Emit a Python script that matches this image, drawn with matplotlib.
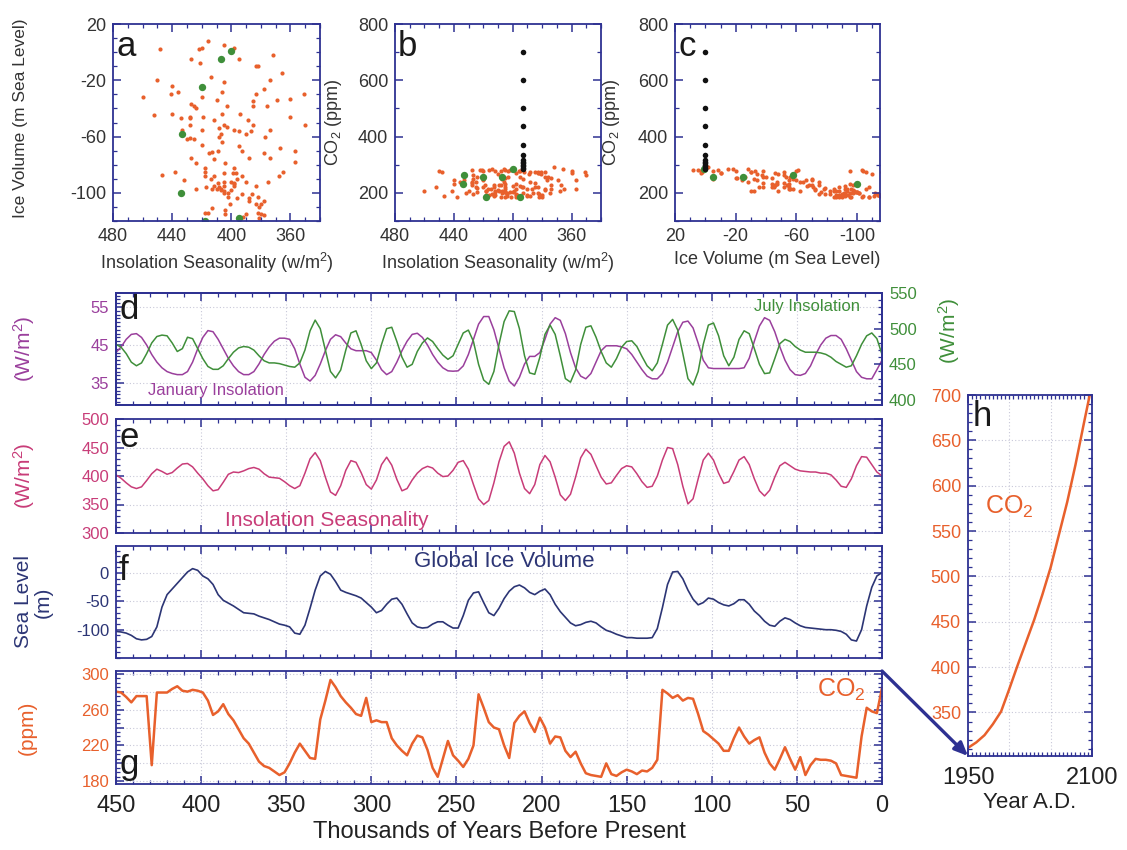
import matplotlib

matplotlib.use("Agg")
import matplotlib.pyplot as plt
import numpy as np
from matplotlib.ticker import MultipleLocator, FixedLocator

plt.rcParams["font.family"] = ["Liberation Sans", "DejaVu Sans"]
plt.rcParams["mathtext.fontset"] = "custom"
plt.rcParams["mathtext.rm"] = "Liberation Sans"
plt.rcParams["mathtext.it"] = "Liberation Sans"
plt.rcParams["axes.unicode_minus"] = False

NAVY = "#2e3192"
ORANGE = "#e8602c"
GREEN = "#3f8f3a"
PURPLE = "#9a3f9c"
PINK = "#c83c78"
ICE = "#2c3575"
GRID = "#c8c8d8"

# ---- time axis (thousands of years before present), 3 kyr steps ----
kyr_bp = np.arange(450, -1, -3)

# panel d: January insolation (W/m2, left axis)
jan_insol = [
    43.0, 44.5, 46.5, 47.8, 48.0, 47.0, 45.0, 42.5, 40.5, 39.0,
    38.0, 37.5, 37.2, 37.2, 38.0, 40.5, 44.0, 47.0, 48.8, 48.5,
    46.5, 44.0, 41.5, 39.5, 38.0, 37.2, 37.2, 38.0, 40.0, 42.5,
    44.5, 46.0, 46.8, 46.8, 46.5, 44.0, 40.0, 36.5, 35.5, 37.0,
    40.0, 43.5, 46.5, 47.7, 47.2, 45.5, 44.0, 43.5, 43.5, 43.5,
    43.0, 41.0, 38.5, 37.2, 38.0, 40.5, 43.5, 46.0, 47.8, 48.1,
    47.0, 45.0, 42.5, 40.5, 39.0, 38.2, 38.1, 38.2, 39.5, 42.5,
    46.5, 50.5, 52.5, 52.5, 49.0, 44.0, 39.0, 35.5, 34.2, 36.5,
    40.0, 42.0, 42.0, 43.0, 46.5, 50.5, 52.2, 51.5, 48.0, 43.0,
    39.0, 36.8, 36.1, 37.5, 40.5, 43.5, 44.8, 44.8, 44.8, 44.5,
    44.0, 42.5, 40.5, 38.5, 36.8, 36.1, 36.1, 37.5, 40.5, 44.5,
    48.5, 51.0, 51.3, 49.5, 45.5, 41.0, 39.0, 38.8, 38.8, 38.8,
    38.8, 38.8, 38.8, 39.0, 41.5, 46.0, 50.0, 52.2, 51.5, 48.5,
    44.5, 41.0, 38.5, 37.2, 37.0, 37.5, 39.5, 42.5, 45.0, 46.8,
    47.5, 47.5, 46.5, 44.0, 41.0, 38.0, 36.5, 36.1, 36.1, 38.5,
    41.0,
]

# panel d: July insolation (W/m2, right axis)
jul_insol = [
    478, 474, 465, 453, 448, 452, 465, 480, 489, 491,
    490, 480, 468, 472, 488, 486, 472, 458, 447, 443,
    443, 448, 458, 467, 473, 475, 474, 470, 462, 455,
    452, 452, 451, 449, 447, 446, 452, 470, 497, 512,
    500, 470, 440, 431, 442, 470, 494, 497, 478, 455,
    444, 452, 478, 500, 502, 482, 460, 446, 450, 468,
    480, 487, 482, 472, 463, 457, 462, 478, 494, 498,
    482, 450, 428, 422, 440, 478, 510, 525, 524, 500,
    462, 438, 436, 460, 492, 505, 492, 462, 430, 425,
    442, 478, 502, 504, 488, 468, 452, 446, 458, 474,
    482, 483, 475, 461, 448, 441, 452, 478, 505, 513,
    498, 465, 430, 421, 440, 478, 505, 508, 490, 462,
    448, 460, 485, 497, 493, 472, 450, 437, 438, 458,
    479, 485, 482, 475, 470, 467, 467, 467, 466, 464,
    460, 454, 450, 446, 448, 462, 478, 490, 494, 486,
    464,
]

# panel e: insolation seasonality (W/m2)
seasonality = [
    402, 396, 388, 381, 378, 381, 392, 404, 412, 408,
    403, 406, 414, 421, 422, 416, 405, 395, 383, 374,
    376, 389, 403, 407, 406, 409, 413, 415, 412, 404,
    398, 397, 396, 390, 383, 378, 383, 405, 430, 441,
    427, 398, 372, 366, 383, 410, 427, 424, 406, 385,
    377, 393, 420, 433, 419, 394, 374, 378, 393, 405,
    413, 417, 414, 405, 399, 400, 410, 424, 427, 412,
    385, 360, 350, 357, 388, 425, 452, 460, 440, 405,
    378, 369, 385, 420, 436, 425, 398, 367, 357, 368,
    398, 432, 447, 438, 418, 398, 386, 388, 401, 413,
    418, 416, 404, 390, 380, 382, 400, 428, 450, 448,
    420, 382, 351, 360, 395, 428, 440, 428, 405, 387,
    390, 408, 428, 434, 420, 395, 374, 365, 375, 398,
    418, 424, 418, 412, 409, 408, 407, 407, 405, 405,
    402, 393, 382, 380, 395, 418, 434, 433, 420, 407,
    400,
]

# panel f: global ice volume as sea level (m)
sea_level = [
    -103, -104, -106, -110, -116, -118, -117, -112, -95, -60,
    -38, -28, -18, -8, 2, 8, 5, -5, -10, -20,
    -38, -48, -53, -58, -64, -70, -71, -72, -76, -79,
    -82, -86, -90, -92, -95, -106, -108, -92, -62, -30,
    -5, 3, -2, -15, -30, -34, -37, -40, -44, -52,
    -60, -70, -66, -55, -46, -44, -55, -72, -88, -95,
    -97, -96, -90, -86, -86, -92, -97, -97, -75, -48,
    -35, -33, -52, -70, -75, -62, -45, -32, -24, -21,
    -26, -34, -38, -32, -28, -38, -55, -68, -78, -88,
    -93, -91, -87, -85, -88, -95, -101, -104, -108, -111,
    -114, -114, -115, -115, -115, -114, -98, -61, -20, 2,
    3, -10, -30, -46, -56, -52, -44, -46, -52, -56,
    -58, -54, -47, -47, -55, -67, -75, -85, -92, -94,
    -85, -79, -82, -88, -93, -96, -97, -98, -99, -100,
    -100, -101, -103, -108, -118, -120, -100, -58, -25, -5,
    1,
]

# panel g: atmospheric CO2 (ppm)
co2 = [
    280, 279, 274, 268, 275, 275, 275, 198, 279, 279,
    279, 283, 286, 281, 280, 282, 281, 279, 270, 254,
    258, 266, 255, 248, 238, 228, 222, 212, 202, 197,
    195, 191, 187, 190, 200, 212, 222, 214, 206, 205,
    249, 270, 293, 285, 275, 268, 262, 255, 253, 273,
    246, 248, 246, 246, 228, 220, 214, 209, 222, 231,
    229, 215, 195, 185, 205, 225, 209, 203, 196, 205,
    220, 277, 262, 246, 240, 238, 220, 206, 245, 253,
    258, 245, 235, 251, 240, 222, 230, 229, 214, 207,
    213, 200, 189, 187, 186, 185, 200, 188, 186, 190,
    193, 191, 188, 192, 191, 195, 204, 282, 278, 273,
    276, 270, 273, 272, 255, 236, 232, 227, 222, 214,
    214, 228, 240, 230, 222, 226, 229, 212, 200, 193,
    205, 218, 205, 193, 207, 187, 198, 205, 204, 204,
    203, 200, 187, 186, 185, 184, 230, 262, 258, 256,
    284,
]

# last deglaciation, drawn green in the scatter panels
DEGLACIAL_KYR = 18

# future CO2 (black dots in b and c) at present insolation / sea level
future_co2 = [285, 290, 295, 300, 305, 310, 318, 336, 371, 436, 500, 600, 700]
present_seasonality = 393
present_sea_level = 0

# panel h: projected CO2, years A.D.
proj_year = [1950, 1960, 1970, 1980, 1990, 2000, 2010, 2020, 2030, 2040,
             2050, 2060, 2070, 2080, 2090, 2100]
proj_co2 = [311, 317, 325, 337, 351, 376, 402, 427, 452, 480,
            510, 546, 582, 623, 668, 712]

W, H = 1127, 850
fig = plt.figure(figsize=(W / 100, H / 100), dpi=100)


def box(x0, y0, x1, y1):
    return fig.add_axes([x0 / W, 1 - y1 / H, (x1 - x0) / W, (y1 - y0) / H])


def frame(ax, right=True):
    for s in ax.spines.values():
        s.set_color(NAVY)
        s.set_linewidth(1.3)
    ax.tick_params(which="both", direction="in", top=True, right=right,
                   color=NAVY)
    ax.tick_params(which="major", length=6, width=1.1)
    ax.tick_params(which="minor", length=3, width=0.9)


def letter(ax, s, x=0.015, y=0.97, va="top"):
    ax.text(x, y, s, transform=ax.transAxes, fontsize=25, va=va, ha="left",
            color="#1a1a1a")


t = np.asarray(kyr_bp)
ins = np.asarray(seasonality)
sl = np.asarray(sea_level)
cc = np.asarray(co2)
old = t > DEGLACIAL_KYR
new = ~old

# ---------------- scatter panels ----------------
ax_a = box(113, 24, 320, 221)
ax_b = box(395, 24, 601, 221)
ax_c = box(675, 24, 880, 221)

ax_a.scatter(ins[old], sl[old], s=9, color=ORANGE, lw=0)
ax_a.scatter(ins[new], sl[new], s=28, color=GREEN, lw=0)
ax_a.set_xlim(480, 340)
ax_a.set_ylim(-120, 20)
ax_a.set_xticks([480, 440, 400, 360])
ax_a.set_yticks([20, -20, -60, -100])
ax_a.xaxis.set_minor_locator(MultipleLocator(10))
ax_a.yaxis.set_minor_locator(MultipleLocator(10))
ax_a.set_xlabel("Insolation Seasonality (w/m$^2$)", fontsize=13, color="#333333")
ax_a.set_ylabel("Ice Volume (m Sea Level)", fontsize=12.5, color="#333333")
ax_a.yaxis.set_label_coords(-0.41, 0.52)
letter(ax_a, "a")

ax_b.scatter(ins[old], cc[old], s=9, color=ORANGE, lw=0)
ax_b.scatter(ins[new], cc[new], s=28, color=GREEN, lw=0)
ax_b.scatter([present_seasonality] * len(future_co2), future_co2, s=16,
             color="#111111", lw=0)
ax_b.set_xlim(480, 340)
ax_b.set_ylim(100, 800)
ax_b.set_xticks([480, 440, 400, 360])
ax_b.set_yticks([200, 400, 600, 800])
ax_b.xaxis.set_minor_locator(MultipleLocator(10))
ax_b.yaxis.set_minor_locator(MultipleLocator(100))
ax_b.set_xlabel("Insolation Seasonality (w/m$^2$)", fontsize=13, color="#333333")
ax_b.set_ylabel("CO$_2$ (ppm)", fontsize=13, color="#333333")
ax_b.yaxis.set_label_coords(-0.25, 0.5)
letter(ax_b, "b")

ax_c.scatter(sl[old], cc[old], s=9, color=ORANGE, lw=0)
ax_c.scatter(sl[new], cc[new], s=28, color=GREEN, lw=0)
ax_c.scatter([present_sea_level] * len(future_co2), future_co2, s=16,
             color="#111111", lw=0)
ax_c.set_xlim(18, -115)
ax_c.set_ylim(100, 800)
ax_c.set_xticks([20, -20, -60, -100])
ax_c.set_yticks([200, 400, 600, 800])
ax_c.xaxis.set_minor_locator(MultipleLocator(10))
ax_c.yaxis.set_minor_locator(MultipleLocator(100))
ax_c.set_xlabel("Ice Volume (m Sea Level)", fontsize=13, color="#333333")
ax_c.set_ylabel("CO$_2$ (ppm)", fontsize=13, color="#333333")
ax_c.yaxis.set_label_coords(-0.26, 0.5)
letter(ax_c, "c")

for ax in (ax_a, ax_b, ax_c):
    frame(ax)
    ax.tick_params(which="major", labelsize=13, labelcolor="#333333", pad=5)

# ---------------- time-series panels ----------------
ax_d = box(116, 293, 882, 405)
ax_e = box(116, 419, 882, 533)
ax_f = box(116, 546, 882, 658)
ax_g = box(116, 671, 882, 784)

for ax in (ax_d, ax_e, ax_f, ax_g):
    ax.set_xlim(450, 0)
    ax.xaxis.set_major_locator(MultipleLocator(50))
    ax.xaxis.set_minor_locator(MultipleLocator(10))
    ax.grid(True, which="major", color=GRID, ls=(0, (1, 2)), lw=0.8)
    ax.set_axisbelow(True)
    if ax is not ax_g:
        ax.tick_params(labelbottom=False)

# d: January (left) and July (right) insolation
ax_d.plot(t, jan_insol, color=PURPLE, lw=1.1)
ax_d.set_ylim(29.2, 58.7)
ax_d.set_yticks([35, 45, 55])
ax_d.yaxis.set_minor_locator(MultipleLocator(1))
frame(ax_d, right=False)
ax_d.tick_params(axis="y", labelsize=12, labelcolor=PURPLE, pad=5)
ax_d.set_ylabel("(W/m$^2$)", fontsize=15, color=PURPLE)
ax_d.yaxis.set_label_coords(-0.103, 0.5)
ax_d.text(431, 32.9, "January Insolation", fontsize=12, color=PURPLE,
          va="center", ha="left")
letter(ax_d, "d", x=0.005, y=1.0)

ax_d2 = ax_d.twinx()
ax_d2.plot(t, jul_insol, color=GREEN, lw=1.1)
ax_d2.set_ylim(393, 550)
ax_d2.set_yticks([400, 450, 500, 550])
ax_d2.yaxis.set_minor_locator(MultipleLocator(10))
for s in ax_d2.spines.values():
    s.set_color(NAVY)
    s.set_linewidth(1.3)
ax_d2.tick_params(which="both", direction="in", color=NAVY)
ax_d2.tick_params(which="major", length=6, width=1.1, labelsize=12,
                  labelcolor=GREEN, pad=5)
ax_d2.tick_params(which="minor", length=3, width=0.9)
ax_d2.set_ylabel("(W/m$^2$)", fontsize=15, color=GREEN)
ax_d2.yaxis.set_label_coords(1.07, 0.66)
ax_d2.text(75, 531, "July Insolation", fontsize=12, color=GREEN,
           va="center", ha="left")

# e: insolation seasonality
ax_e.plot(t, seasonality, color=PINK, lw=1.1)
ax_e.set_ylim(300, 500)
ax_e.set_yticks([300, 350, 400, 450, 500])
ax_e.yaxis.set_minor_locator(MultipleLocator(10))
frame(ax_e)
ax_e.tick_params(axis="y", labelsize=12, labelcolor=PINK, pad=5)
ax_e.set_ylabel("(W/m$^2$)", fontsize=15, color=PINK)
ax_e.yaxis.set_label_coords(-0.103, 0.5)
ax_e.text(386, 322, "Insolation Seasonality", fontsize=15, color=PINK,
          va="center", ha="left")
letter(ax_e, "e", x=0.005, y=0.98)

# f: global ice volume
ax_f.plot(t, sea_level, color=ICE, lw=1.2)
ax_f.set_ylim(-150, 48)
ax_f.set_yticks([-100, -50, 0])
ax_f.yaxis.set_minor_locator(MultipleLocator(10))
frame(ax_f)
ax_f.tick_params(axis="y", labelsize=12, labelcolor=ICE, pad=5)
ax_f.set_ylabel("Sea Level\n(m)", fontsize=15, color=ICE, linespacing=1.0)
ax_f.yaxis.set_label_coords(-0.083, 0.5)
ax_f.text(275, 20, "Global Ice Volume", fontsize=16, color=ICE,
          va="center", ha="left")
letter(ax_f, "f", x=0.003, y=0.93)

# g: CO2
ax_g.plot(t, co2, color=ORANGE, lw=1.8)
ax_g.set_ylim(177, 303)
ax_g.yaxis.set_major_locator(FixedLocator([180, 200, 220, 240, 260, 280, 300]))
ax_g.yaxis.set_major_formatter(
    plt.FuncFormatter(lambda v, p: f"{v:.0f}" if int(v) % 40 == 20 else ""))
ax_g.yaxis.set_minor_locator(MultipleLocator(5))
frame(ax_g)
ax_g.tick_params(axis="y", labelsize=12, labelcolor=ORANGE, pad=5)
ax_g.tick_params(axis="x", labelsize=17, labelcolor="#222222", pad=8)
ax_g.set_ylabel("(ppm)", fontsize=15, color=ORANGE)
ax_g.yaxis.set_label_coords(-0.103, 0.5)
ax_g.set_xlabel("Thousands of Years Before Present", fontsize=17,
                color="#222222", labelpad=3)
ax_g.text(38, 282, "CO$_2$", fontsize=18, color=ORANGE, va="center",
          ha="left")
letter(ax_g, "g", x=0.005, y=0.03, va="bottom")

# ---------------- h: future CO2 ----------------
ax_h = box(968, 395, 1092, 756)
ax_h.plot(proj_year, proj_co2, color=ORANGE, lw=1.8)
ax_h.set_xlim(1950, 2100)
ax_h.set_ylim(302, 700)
ax_h.set_xticks([1950, 2100])
ax_h.xaxis.set_minor_locator(MultipleLocator(5))
ax_h.yaxis.set_major_locator(FixedLocator([350, 400, 450, 500, 550, 600, 650, 700]))
ax_h.yaxis.set_minor_locator(MultipleLocator(10))
for gx in (2000, 2050):
    ax_h.axvline(gx, color=GRID, ls=(0, (1, 2)), lw=0.8, zorder=0)
ax_h.grid(True, axis="y", which="major", color=GRID, ls=(0, (1, 2)), lw=0.8)
ax_h.set_axisbelow(True)
frame(ax_h)
ax_h.tick_params(axis="y", labelsize=13, labelcolor=ORANGE, pad=5)
ax_h.tick_params(axis="x", labelsize=17, labelcolor="#222222", pad=8)
ax_h.set_xlabel("Year A.D.", fontsize=16, color="#222222", labelpad=2)
ax_h.text(0.14, 0.69, "CO$_2$", transform=ax_h.transAxes, fontsize=18,
          color=ORANGE, va="center", ha="left")
letter(ax_h, "h", x=0.04, y=0.985)

# arrow from the present end of g to the start of h
ax_h.annotate("", xy=(1950, 302), xycoords="data",
              xytext=(0, 303), textcoords=ax_g.transData,
              arrowprops=dict(arrowstyle="-|>,head_length=0.8,head_width=0.35",
                              color=NAVY, lw=2.4, shrinkA=0, shrinkB=0),
              annotation_clip=False)

fig.savefig("out.png", dpi=100)
